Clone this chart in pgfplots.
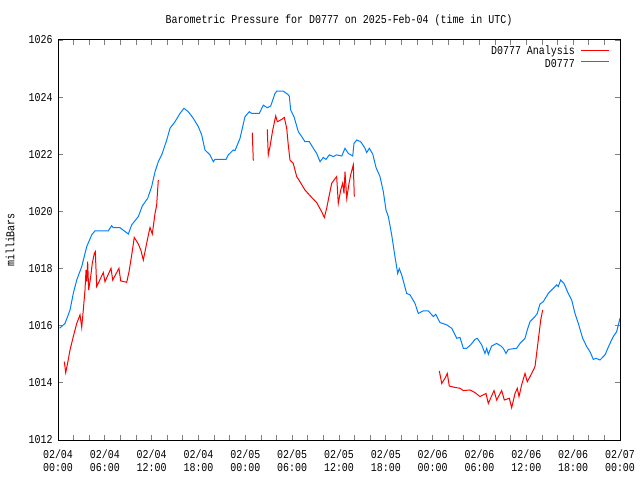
\documentclass[border=0pt]{standalone}
\usepackage{pgfplots}
\pgfplotsset{compat=1.18}
\usepackage{fontspec}
\setmainfont[FakeStretch=0.83]{Liberation Mono}
\definecolor{anred}{RGB}{255,0,0}
\definecolor{obblue}{RGB}{0,128,255}
\pgfplotsset{
  legend image code/.code={}
}
\begin{document}
\begin{tikzpicture}
\path[use as bounding box, fill=white] (0,0) rectangle (640bp,480bp);
\begin{axis}[
  at={(58bp,40bp)}, anchor=south west,
  scale only axis, width=562bp, height=400bp,
  xmin=0, xmax=72, ymin=1012, ymax=1026,
  font=\fontsize{12bp}{13bp}\selectfont,
  /pgf/number format/assume math mode=true,
  /pgf/number format/1000 sep={},
  axis line style={line width=1bp},
  tick style={line width=0.8bp},
  major tick length=5bp, minor tick length=5bp,
  tick align=inside,
  xtick={0,6,...,72},
  minor xtick={2,4,8,10,14,16,20,22,26,28,32,34,38,40,44,46,50,52,56,58,62,64,68,70},
  xticklabels={{02/04\\00:00},{02/04\\06:00},{02/04\\12:00},{02/04\\18:00},{02/05\\00:00},{02/05\\06:00},{02/05\\12:00},{02/05\\18:00},{02/06\\00:00},{02/06\\06:00},{02/06\\12:00},{02/06\\18:00},{02/07\\00:00}},
  xticklabel style={align=center, font=\fontsize{12bp}{13bp}\selectfont, yshift=-6bp},
  ytick={1012,1014,...,1026},
  yticklabel style={xshift=-2bp},
  every axis title shift=0pt,
  title={Barometric Pressure for D0777 on 2025-Feb-04 (time in UTC)},
  title style={at={(axis description cs:0.5,1)}, anchor=center, yshift=20bp},
  ylabel={milliBars},
  ylabel style={at={(axis description cs:-0.0854,0.5)}, anchor=center},
  legend style={draw=none, fill=none, at={(axis description cs:1,1)}, anchor=north east, xshift=-45bp, yshift=-2bp, inner xsep=0pt, row sep=-1bp, font=\fontsize{12bp}{13bp}\selectfont, nodes={inner xsep=0pt}},
  legend cell align=right,
]
\addplot[draw=anred, line width=1bp] coordinates {
(0.81,1014.74) (0.99,1014.36) (1.19,1014.63) (1.54,1015.15) (1.96,1015.62) (2.40,1016.08) (2.82,1016.38) (3.04,1015.94) (3.24,1016.55) (3.46,1017.25) (3.59,1017.95) (3.68,1017.54) (3.80,1018.24) (3.93,1017.25) (4.19,1017.72) (4.39,1018.18) (4.65,1018.53) (4.78,1018.59) (4.96,1017.37) (5.80,1017.86) (6.02,1017.54) (6.79,1018.01) (7.01,1017.60) (7.81,1018.01) (8.03,1017.57) (8.80,1017.52) (9.10,1017.89) (9.44,1018.47) (9.77,1019.09) (10.29,1018.86) (10.63,1018.63) (10.93,1018.30) (11.49,1019.06) (11.79,1019.44) (12.08,1019.21) (12.43,1019.93) (12.64,1020.22) (12.85,1021.10)
};
\addlegendentry{D0777 Analysis}
\addplot[draw=obblue, line width=1bp] coordinates {
(0.20,1015.91) (0.90,1016.08) (1.54,1016.55) (1.96,1017.13) (2.40,1017.60) (3.04,1018.07) (3.68,1018.77) (4.32,1019.18) (4.74,1019.32) (6.44,1019.32) (6.88,1019.50) (7.08,1019.43) (7.94,1019.43) (9.01,1019.21) (9.44,1019.53) (10.29,1019.82) (10.80,1020.19) (11.49,1020.46) (12.00,1020.87) (12.43,1021.39) (12.85,1021.74) (13.29,1021.98) (13.93,1022.50) (14.35,1022.91) (14.99,1023.14) (15.63,1023.43) (16.14,1023.61) (16.69,1023.49) (17.33,1023.26) (17.97,1022.97) (18.41,1022.68) (18.83,1022.15) (19.47,1021.98) (19.90,1021.74) (20.11,1021.82) (21.52,1021.82) (21.82,1021.98) (22.46,1022.15) (22.68,1022.13) (23.32,1022.56) (23.96,1023.32) (24.51,1023.49) (24.82,1023.43) (25.79,1023.43) (26.30,1023.72) (26.81,1023.63) (27.25,1023.69) (27.80,1024.13) (28.02,1024.21) (28.86,1024.21) (29.38,1024.11) (29.63,1024.04) (29.81,1023.55) (30.23,1023.32) (30.79,1022.79) (31.22,1022.62) (31.64,1022.44) (32.20,1022.44) (32.71,1022.21) (33.14,1022.03) (33.57,1021.74) (33.99,1021.89) (34.33,1021.82) (34.76,1021.98) (35.27,1021.92) (35.70,1021.98) (36.35,1021.94) (36.77,1022.21) (37.19,1022.03) (37.76,1021.94) (37.92,1022.38) (38.27,1022.50) (38.78,1022.44) (39.33,1022.21) (39.55,1022.06) (39.88,1022.21) (40.32,1022.01) (40.74,1021.54) (41.25,1021.22) (41.68,1020.69) (42.02,1020.05) (42.32,1019.82) (42.75,1019.18) (43.17,1018.42) (43.52,1017.83) (43.72,1018.00) (44.03,1017.78) (44.67,1017.13) (45.10,1017.08) (45.74,1016.78) (46.16,1016.43) (46.80,1016.52) (47.44,1016.52) (48.08,1016.32) (48.39,1016.40) (48.94,1016.11) (49.80,1016.03) (50.44,1015.91) (51.08,1015.56) (51.50,1015.59) (51.93,1015.21) (52.36,1015.21) (52.87,1015.33) (53.42,1015.52) (53.72,1015.56) (54.28,1015.33) (54.70,1015.03) (54.92,1015.21) (55.13,1015.00) (55.56,1015.29) (56.20,1015.38) (56.75,1015.29) (57.05,1015.21) (57.39,1015.03) (57.69,1015.17) (58.76,1015.21) (59.19,1015.38) (59.83,1015.56) (60.12,1015.85) (60.47,1016.14) (61.11,1016.32) (61.40,1016.43) (61.75,1016.76) (62.17,1016.84) (62.81,1017.13) (63.45,1017.31) (63.89,1017.43) (64.09,1017.37) (64.40,1017.60) (64.82,1017.48) (65.37,1017.13) (65.81,1016.90) (66.23,1016.43) (66.66,1016.08) (67.22,1015.56) (67.73,1015.27) (68.16,1015.09) (68.58,1014.82) (68.92,1014.86) (69.44,1014.80) (70.08,1014.98) (70.63,1015.33) (71.14,1015.62) (71.57,1015.79) (72.00,1016.26)
};
\addlegendentry{D0777}
\addplot[draw=anred, line width=1bp, forget plot] coordinates {
(24.89,1022.76) (25.02,1021.78)
};
\addplot[draw=anred, line width=1bp, forget plot] coordinates {
(26.81,1022.87) (26.94,1021.98) (27.16,1022.27) (27.51,1022.85) (27.89,1023.34) (28.10,1023.14) (28.66,1023.22) (28.99,1023.29) (29.30,1022.91) (29.50,1022.33) (29.72,1021.80) (30.14,1021.68) (30.58,1021.22) (31.00,1021.04) (31.64,1020.75) (32.50,1020.49) (33.14,1020.31) (33.78,1019.99) (34.12,1019.79) (34.42,1020.11) (34.76,1020.58) (35.07,1020.99) (35.70,1021.22) (35.91,1020.28) (36.22,1020.75) (36.47,1020.99) (36.64,1020.63) (36.77,1021.39) (36.99,1020.46) (37.32,1021.04) (37.54,1021.33) (37.83,1021.63) (37.96,1020.52)
};
\addplot[draw=anred, line width=1bp, forget plot] coordinates {
(48.85,1014.42) (49.16,1013.98) (49.58,1014.16) (49.87,1014.33) (50.13,1013.89) (50.86,1013.84) (51.50,1013.81) (51.93,1013.73) (52.78,1013.75) (53.42,1013.66) (54.06,1013.52) (54.49,1013.58) (54.83,1013.63) (55.13,1013.28) (55.86,1013.73) (56.20,1013.40) (56.84,1013.73) (57.18,1013.40) (57.82,1013.46) (58.12,1013.13) (58.55,1013.63) (58.84,1013.81) (59.06,1013.52) (59.40,1013.93) (59.83,1014.33) (60.12,1014.04) (60.69,1014.33) (61.11,1014.57) (61.32,1015.03) (61.66,1015.79) (61.84,1016.20) (62.09,1016.55)
};
% legend sample lines
\addplot[draw=anred, line width=1bp, forget plot] coordinates {(67.0,1025.64) (70.6,1025.64)};
\addplot[draw=obblue, line width=1bp, forget plot] coordinates {(67.0,1025.23) (70.6,1025.23)};
\end{axis}
\end{tikzpicture}
\end{document}
